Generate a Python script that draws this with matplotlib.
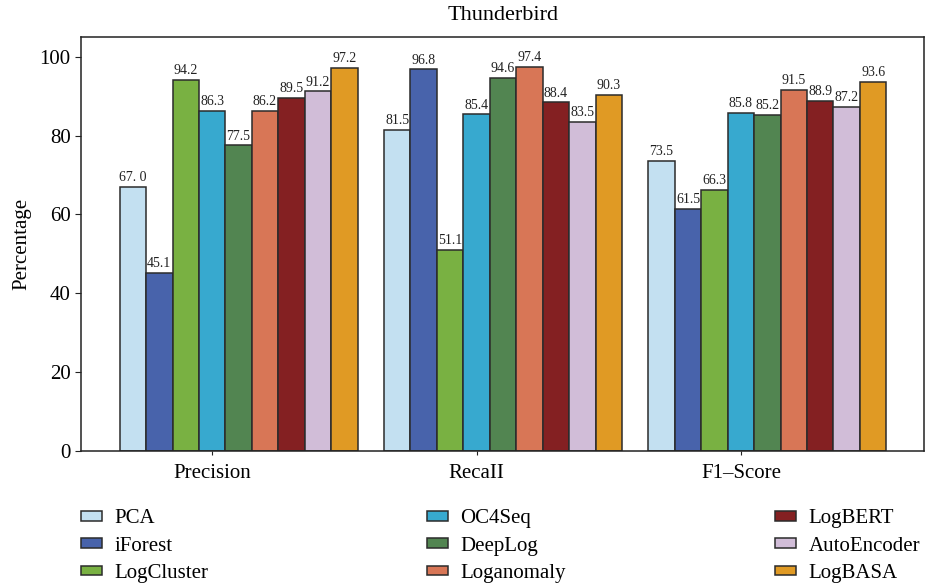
import numpy as np
import matplotlib.pyplot as plt
from matplotlib.patches import Patch

plt.rcParams['font.family'] = ['Liberation Serif', 'DejaVu Serif']

# 数据
metrics = ['Precision', 'RecaII', 'F1\u2013Score']
methods = ['PCA', 'iForest', 'LogCluster', 'OC4Seq', 'DeepLog',
           'Loganomaly', 'LogBERT', 'AutoEncoder', 'LogBASA']
pca = [67.0, 81.5, 73.5]
iforest = [45.1, 96.8, 61.5]
logcluster = [94.2, 51.1, 66.3]
oc4seq = [86.3, 85.4, 85.8]
deeplog = [77.5, 94.6, 85.2]
loganomaly = [86.2, 97.4, 91.5]
logbert = [89.5, 88.4, 88.9]
autoencoder = [91.2, 83.5, 87.2]
logbasa = [97.2, 90.3, 93.6]
colors = ['#c3e0f1', '#4863ab', '#79b142', '#37a9cf', '#528551',
          '#d87656', '#842022', '#d1bdd8', '#e09a24']

series = [pca, iforest, logcluster, oc4seq, deeplog,
          loganomaly, logbert, autoencoder, logbasa]

fig = plt.figure(figsize=(9.26, 5.84), dpi=100)
ax = fig.add_axes([0.0875, 0.2277, 0.9105, 0.7089])

x = np.arange(len(metrics))
width = 0.1
for i, (vals, name, c) in enumerate(zip(series, methods, colors)):
    # 刻度落在第4根柱子中心
    pos = x + (i - 3) * width
    bars = ax.bar(pos, vals, width, color=c, edgecolor='#2b2b2b',
                  linewidth=1.1, label=name)
    labels = [f'{v:.1f}' for v in vals]
    labels = ['67. 0' if s == '67.0' else s for s in labels]
    ax.bar_label(bars, labels=labels, padding=2, fontsize=10, color='#222222')

ax.set_xlim(-0.496, 2.693)
ax.set_ylim(0, 105)
ax.set_yticks([0, 20, 40, 60, 80, 100])
ax.set_xticks(x)
ax.set_xticklabels(metrics)
ax.tick_params(axis='both', labelsize=15, color='#222222', length=4)
ax.tick_params(axis='x', length=3, pad=6)
ax.set_ylabel('Percentage', fontsize=15, labelpad=6)
ax.set_title('Thunderbird', fontsize=16, pad=12)
for s in ax.spines.values():
    s.set_color('#222222')
    s.set_linewidth(1.1)

handles = [Patch(facecolor=c, edgecolor='#2b2b2b', linewidth=1.1) for c in colors]
col_x = [81 / 926, 427 / 926, 775 / 926]
for k in range(3):
    fig.legend(handles[k * 3:(k + 1) * 3], methods[k * 3:(k + 1) * 3],
               loc='upper left', bbox_to_anchor=(col_x[k], 0.128),
               frameon=False, fontsize=15, handlelength=1.0,
               handleheight=0.35, handletextpad=0.6, labelspacing=0.4,
               borderaxespad=0, borderpad=0)

fig.savefig('out.png', dpi=100)
